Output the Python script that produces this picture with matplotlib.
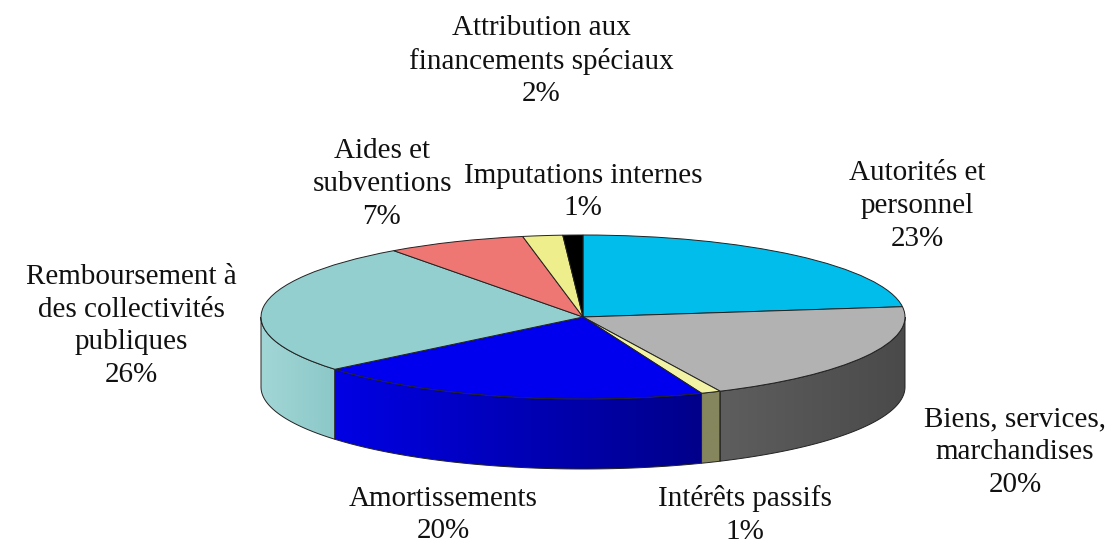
import numpy as np
import matplotlib
matplotlib.use('Agg')
import matplotlib.pyplot as plt
from matplotlib.colors import LinearSegmentedColormap
from matplotlib.patches import Polygon

plt.rcParams['font.family'] = ['Liberation Serif', 'DejaVu Serif']

# data, clockwise from 12 o'clock
labels = ['Autorités et\npersonnel', 'Biens, services,\nmarchandises', 'Intérêts passifs',
          'Amortissements', 'Remboursement à\ndes collectivités\npubliques',
          'Aides et\nsubventions', 'Attribution aux\nfinancements spéciaux',
          'Imputations internes']
shares = [23, 20, 1, 20, 26, 7, 2, 1]

top_colors = ['#00BDEC', '#B2B2B2', '#F3F3A6', '#0000EE',
              '#93CFCF', '#EE7774', '#EEEE8C', '#000000']
side_colors = [('#0098C0', '#0098C0'), ('#5E5E5E', '#4A4A4A'), ('#86865E', '#86865E'),
               ('#0000E4', '#00008A'), ('#A2D6D6', '#8CC8C8'), ('#C05E5C', '#C05E5C'),
               ('#C0C070', '#C0C070'), ('#000000', '#000000')]

# label centres in pixels (x from left, y from top)
label_pos = [(917, 206), (1015, 452), (745, 515), (443, 515),
             (131, 326), (382, 184), (541, 61), (583, 192)]

W, H = 1113, 544
cx, cy, rx, ry, depth_px = 583, 317, 322, 82, 70
depth = depth_px / ry

fig = plt.figure(figsize=(W / 100, H / 100), dpi=100)
ax = fig.add_axes([0, 0, 1, 1])

# side walls (front half only)
cum = np.concatenate([[0], np.cumsum(shares)])
for i in range(len(shares)):
    a_hi = 90 - cum[i] * 3.6
    a_lo = 90 - cum[i + 1] * 3.6
    lo, hi = max(a_lo, -180), min(a_hi, 0)
    if hi <= lo:
        continue
    t = np.radians(np.linspace(lo, hi, 80))
    xs = np.cos(t)
    ys = np.sin(t)
    pts = np.vstack([np.column_stack([xs, ys]),
                     np.column_stack([xs[::-1], ys[::-1] - depth])])
    poly = Polygon(pts, closed=True, facecolor='none', edgecolor='none')
    ax.add_patch(poly)
    cmap = LinearSegmentedColormap.from_list('s%d' % i, list(side_colors[i]))
    im = ax.imshow(np.linspace(0, 1, 256).reshape(1, -1), cmap=cmap, aspect='auto',
                   extent=(xs.min(), xs.max(), ys.min() - depth, ys.max()),
                   interpolation='bilinear', zorder=1)
    im.set_clip_path(poly)
    ax.add_patch(Polygon(pts, closed=True, fill=False, edgecolor='#222222',
                         linewidth=0.7, zorder=2))

# top face
ax.pie(shares, colors=top_colors, startangle=90, counterclock=False, radius=1,
       center=(0, 0), wedgeprops=dict(edgecolor='#222222', linewidth=0.7, zorder=3))

ax.set_aspect('auto')
ax.set_xlim(-cx / rx, (W - cx) / rx)
ax.set_ylim(-(H - cy) / ry, cy / ry)
ax.axis('off')

for lab, v, (px, py) in zip(labels, shares, label_pos):
    fig.text(px / W, 1 - py / H, '%s\n%d%%' % (lab, v), ha='center', va='center',
             fontsize=21, linespacing=1.33, color='#111111')

fig.savefig('out.png', dpi=100, facecolor='white')
